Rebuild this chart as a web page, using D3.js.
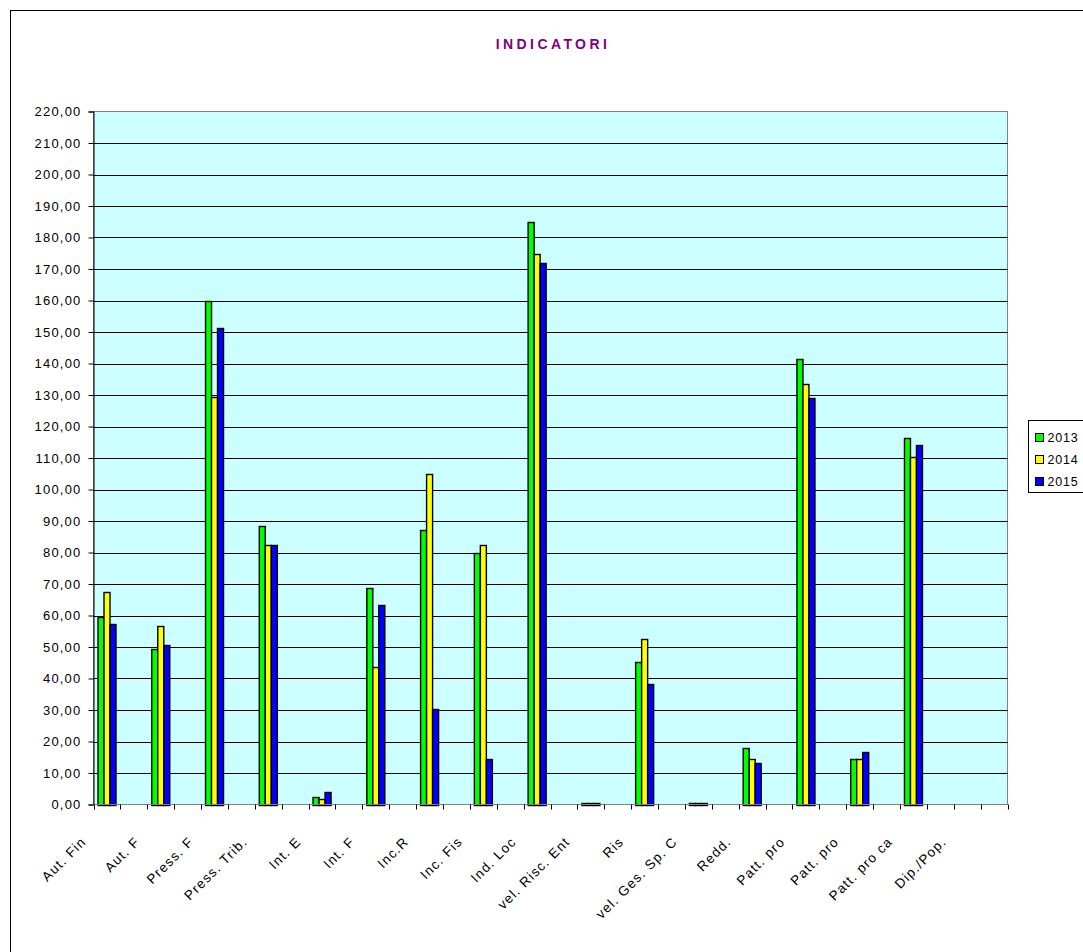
<!DOCTYPE html>
<html>
<head>
<meta charset="utf-8">
<script src="https://cdn.jsdelivr.net/npm/d3@7"></script>
<style>
  html, body { margin: 0; padding: 0; background: #fff; }
  svg { display: block; font-family: "Liberation Sans", Arial, sans-serif; }
</style>
</head>
<body>
<svg id="chart" width="1083" height="952"></svg>
<script>
// ---- data ----
const categories = ["Aut. Fin", "Aut. F", "Press. F", "Press. Trib.", "Int. E", "Int. F", "Inc.R",
  "Inc. Fis", "Ind. Loc", "vel. Risc. Ent", "Ris", "vel. Ges. Sp. C", "Redd.", "Patt. pro",
  "Patt. pro", "Patt. pro ca", "Dip./Pop."];
const seriesNames = ["2013", "2014", "2015"];
const values2013 = [59.5, 49.5, 160.0, 88.4, 2.4, 68.6, 87.3, 80.0, 185.0, 0.4, 45.3, 0.4, 17.8, 141.3, 14.3, 116.2, null];
const values2014 = [67.4, 56.6, 129.5, 82.3, 1.8, 43.5, 105.0, 82.4, 174.7, 0.4, 52.4, 0.4, 14.3, 133.5, 14.3, 110.3, null];
const values2015 = [57.4, 50.7, 151.4, 82.3, 4.1, 63.3, 30.4, 14.3, 171.8, 0.4, 38.1, 0.4, 13.1, 128.9, 16.7, 114.0, null];
const yTicks = d3.range(0, 221, 10);
const colors = ["#00FF00", "#FFFF00", "#0000FF"];

const seriesValues = [values2013, values2014, values2015];
// Each category is followed by an empty slot (as in the source sheet)
const slots = d3.range(categories.length * 2);

// ---- layout ----
const svg = d3.select("#chart");
const plot = { left: 93.5, right: 1007.5, top: 111.5, bottom: 804.5 };

// chart outer border
svg.append("rect").attr("x", 10.5).attr("y", 10.5).attr("width", 1200).attr("height", 1200)
  .attr("fill", "#fff").attr("stroke", "#000").attr("stroke-width", 1);

// title
svg.append("text").attr("x", 553).attr("y", 49).attr("text-anchor", "middle")
  .attr("fill", "#800080").attr("font-weight", "bold").attr("font-size", 14)
  .attr("letter-spacing", 3.4).text("INDICATORI");

const x = d3.scaleBand().domain(slots).range([plot.left, plot.right]).padding(0);
const xInner = d3.scaleBand().domain(seriesNames)
  .range([x.bandwidth() * 0.16, x.bandwidth() * 0.84]).padding(0);
const y = d3.scaleLinear().domain([0, 220]).range([plot.bottom, plot.top]);

// plot background
svg.append("rect").attr("x", plot.left).attr("y", plot.top)
  .attr("width", plot.right - plot.left).attr("height", plot.bottom - plot.top)
  .attr("fill", "#CCFFFF").attr("stroke", "#808080").attr("stroke-width", 1);

// gridlines
svg.append("g").selectAll("line").data(yTicks.filter(d => d > 0 && d < 220)).join("line")
  .attr("x1", plot.left).attr("x2", plot.right)
  .attr("y1", d => Math.round(y(d)) + 0.5).attr("y2", d => Math.round(y(d)) + 0.5)
  .attr("stroke", "#000").attr("stroke-width", 1);

// bars
const groups = svg.append("g").selectAll("g").data(categories).join("g")
  .attr("transform", (d, i) => `translate(${x(i * 2)},0)`);
groups.selectAll("rect").data((d, i) => seriesNames.map((s, k) => ({ s, v: seriesValues[k][i], k })))
  .join("rect")
  .filter(d => d.v != null)
  .attr("x", d => Math.round(xInner(d.s)) + 0.5)
  .attr("width", Math.round(xInner.bandwidth()))
  .attr("y", d => Math.round(y(d.v)) + 0.5)
  .attr("height", d => Math.max(1, Math.round(y(0)) - Math.round(y(d.v))))
  .attr("fill", d => colors[d.k]).attr("stroke", "#000").attr("stroke-width", 1.4);

// y axis
const yAxis = d3.axisLeft(y).tickValues(yTicks).tickSize(5).tickPadding(7)
  .tickFormat(d => d3.format(".2f")(d).replace(".", ","));
const gy = svg.append("g").attr("transform", `translate(${plot.left},0)`).call(yAxis);
gy.select(".domain").attr("stroke", "#000");
gy.selectAll(".tick line").attr("stroke", "#000");
gy.selectAll(".tick text").attr("font-size", 13).attr("fill", "#000")
  .attr("letter-spacing", 1.2).attr("font-family", "Liberation Sans, Arial, sans-serif");

// x axis ticks at every slot boundary
const boundaries = slots.map(s => x(s)).concat([plot.right]);
svg.append("line").attr("x1", plot.left).attr("x2", plot.right)
  .attr("y1", plot.bottom).attr("y2", plot.bottom).attr("stroke", "#808080");
svg.append("g").selectAll("line").data(boundaries).join("line")
  .attr("x1", d => Math.round(d) + 0.5).attr("x2", d => Math.round(d) + 0.5)
  .attr("y1", plot.bottom).attr("y2", plot.bottom + 5).attr("stroke", "#000");

// x labels (rotated)
svg.append("g").selectAll("text").data(categories).join("text")
  .attr("text-anchor", "end")
  .attr("font-size", 13.5).attr("letter-spacing", 1.2).attr("fill", "#000")
  .attr("transform", (d, i) => `translate(${x(i * 2) + x.bandwidth() / 2 - 20},${plot.bottom + 38}) rotate(-45)`)
  .text(d => d);

// legend
const lg = svg.append("g").attr("transform", "translate(1028.5,420.5)");
lg.append("rect").attr("width", 80).attr("height", 72).attr("fill", "#fff")
  .attr("stroke", "#000").attr("stroke-width", 1);
seriesNames.forEach((s, k) => {
  const row = lg.append("g").attr("transform", `translate(0,${13 + k * 22})`);
  row.append("rect").attr("x", 7).attr("y", 0).attr("width", 8).attr("height", 8)
    .attr("fill", colors[k]).attr("stroke", "#000").attr("stroke-width", 1);
  row.append("text").attr("x", 19).attr("y", 8.5).attr("font-size", 12.5)
    .attr("letter-spacing", 0.8).attr("fill", "#000").text(s);
});
</script>
</body>
</html>
